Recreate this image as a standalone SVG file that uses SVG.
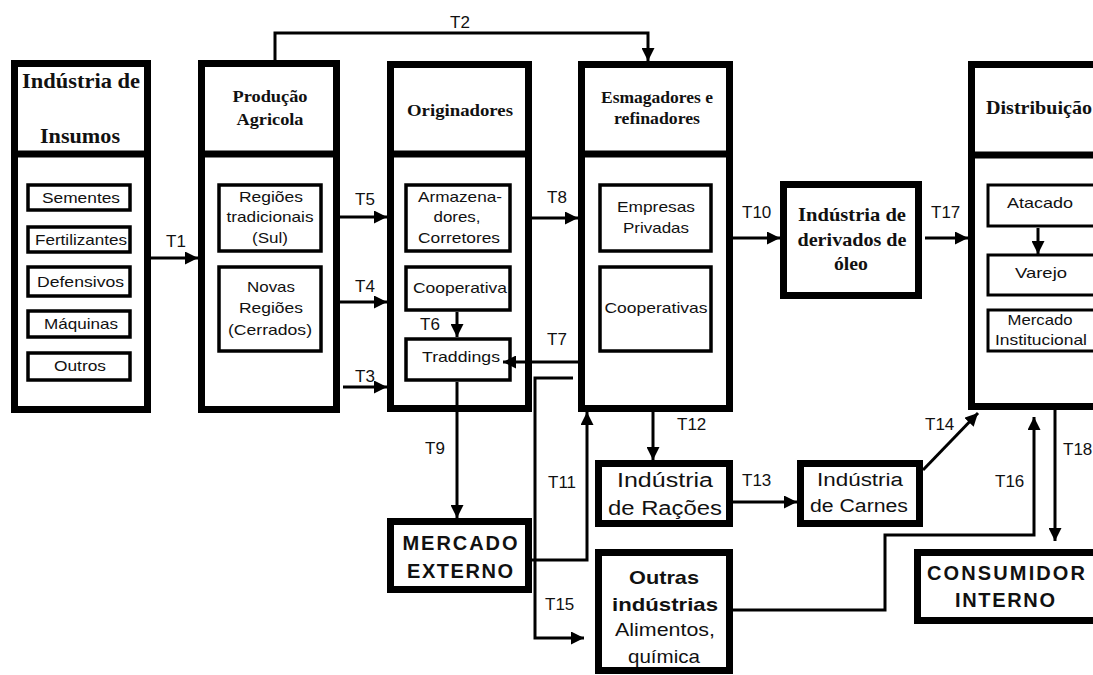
<svg xmlns="http://www.w3.org/2000/svg" width="1093" height="675" viewBox="0 0 1093 675">
<style>
.ob{fill:#fff;stroke:#000;stroke-width:7}
.ib{fill:#fff;stroke:#000;stroke-width:3.5}
.dv{stroke:#000;stroke-width:7}
.hd{font-family:"Liberation Serif",serif;font-weight:bold;fill:#111;text-anchor:middle}
.it{font-family:"Liberation Sans",Arial,sans-serif;font-size:15px;fill:#111;text-anchor:middle}
.lb{font-family:"Liberation Sans",Arial,sans-serif;font-size:17px;fill:#111}
.bg{font-family:"Liberation Sans",Arial,sans-serif;fill:#111;text-anchor:middle}
.cn{fill:none;stroke:#000;stroke-width:3}
</style>
<defs>
<marker id="ar" markerUnits="userSpaceOnUse" markerWidth="13" markerHeight="13" refX="13" refY="6.5" orient="auto">
<path d="M0,0 L13,6.5 L0,13 z" fill="#000"/>
</marker>
</defs>
<rect width="1093" height="675" fill="#fff"/>

<g id="insumos">
<rect class="ob" x="14.5" y="63.5" width="133" height="346"/>
<line class="dv" x1="11" y1="154" x2="151" y2="154"/>
<text class="hd" x="81" y="88" font-size="21" textLength="118" lengthAdjust="spacingAndGlyphs">Indústria de</text>
<text class="hd" x="80" y="143" font-size="21" textLength="80" lengthAdjust="spacingAndGlyphs">Insumos</text>
<rect class="ib" x="28" y="185" width="102" height="25"/>
<rect class="ib" x="28" y="227" width="102" height="25"/>
<rect class="ib" x="28" y="267" width="102" height="29"/>
<rect class="ib" x="28" y="311" width="102" height="26"/>
<rect class="ib" x="28" y="353" width="102" height="27"/>
<text class="it" x="81" y="203" textLength="78" lengthAdjust="spacingAndGlyphs">Sementes</text>
<text class="it" x="81" y="245" textLength="92" lengthAdjust="spacingAndGlyphs">Fertilizantes</text>
<text class="it" x="80.5" y="287" textLength="87" lengthAdjust="spacingAndGlyphs">Defensivos</text>
<text class="it" x="81" y="329" textLength="74" lengthAdjust="spacingAndGlyphs">Máquinas</text>
<text class="it" x="80" y="371" textLength="52" lengthAdjust="spacingAndGlyphs">Outros</text>
</g>

<g id="producao">
<rect class="ob" x="201.5" y="63.5" width="135" height="346"/>
<line class="dv" x1="198" y1="154" x2="340" y2="154"/>
<text class="hd" x="270" y="102" font-size="17" textLength="75" lengthAdjust="spacingAndGlyphs">Produção</text>
<text class="hd" x="270" y="125" font-size="17" textLength="67" lengthAdjust="spacingAndGlyphs">Agricola</text>
<rect class="ib" x="219" y="185" width="102" height="66"/>
<rect class="ib" x="219" y="267" width="102" height="84"/>
<text class="it" x="271" y="202" textLength="64" lengthAdjust="spacingAndGlyphs">Regiões</text>
<text class="it" x="270" y="222" textLength="87" lengthAdjust="spacingAndGlyphs">tradicionais</text>
<text class="it" x="270" y="243" textLength="36" lengthAdjust="spacingAndGlyphs">(Sul)</text>
<text class="it" x="271" y="292" textLength="48" lengthAdjust="spacingAndGlyphs">Novas</text>
<text class="it" x="271" y="313" textLength="64" lengthAdjust="spacingAndGlyphs">Regiões</text>
<text class="it" x="270" y="335" textLength="84" lengthAdjust="spacingAndGlyphs">(Cerrados)</text>
</g>

<g id="originadores">
<rect class="ob" x="390.5" y="64.5" width="138" height="344"/>
<line class="dv" x1="387" y1="154" x2="532" y2="154"/>
<text class="hd" x="460" y="116" font-size="17" textLength="106" lengthAdjust="spacingAndGlyphs">Originadores</text>
<rect class="ib" x="406" y="185" width="104" height="66"/>
<rect class="ib" x="406" y="267" width="104" height="43"/>
<rect class="ib" x="406" y="339" width="104" height="41"/>
<text class="it" x="460" y="202" textLength="84" lengthAdjust="spacingAndGlyphs">Armazena-</text>
<text class="it" x="457" y="222" textLength="47" lengthAdjust="spacingAndGlyphs">dores,</text>
<text class="it" x="459" y="243" textLength="82" lengthAdjust="spacingAndGlyphs">Corretores</text>
<text class="it" x="460" y="293" textLength="94" lengthAdjust="spacingAndGlyphs">Cooperativa</text>
<text class="it" x="461" y="362" textLength="78" lengthAdjust="spacingAndGlyphs">Traddings</text>
</g>

<g id="esmagadores">
<rect class="ob" x="581.5" y="64.5" width="148" height="344"/>
<line class="dv" x1="578" y1="154" x2="733" y2="154"/>
<text class="hd" x="657" y="103" font-size="16" textLength="112" lengthAdjust="spacingAndGlyphs">Esmagadores e</text>
<text class="hd" x="657" y="124" font-size="16" textLength="86" lengthAdjust="spacingAndGlyphs">refinadores</text>
<rect class="ib" x="600" y="185" width="111" height="66"/>
<rect class="ib" x="600" y="267" width="111" height="84"/>
<text class="it" x="656" y="212" textLength="78" lengthAdjust="spacingAndGlyphs">Empresas</text>
<text class="it" x="656" y="233" textLength="66" lengthAdjust="spacingAndGlyphs">Privadas</text>
<text class="it" x="656" y="313" textLength="103" lengthAdjust="spacingAndGlyphs">Cooperativas</text>
</g>

<g id="distribuicao">
<rect class="ob" x="971.5" y="64.5" width="140" height="342"/>
<line class="dv" x1="968" y1="155" x2="1100" y2="155"/>
<text class="hd" x="986" y="114" font-size="18" textLength="106" lengthAdjust="spacingAndGlyphs" style="text-anchor:start">Distribuição</text>
<rect class="ib" x="988" y="185" width="120" height="41" style="stroke-width:3"/>
<rect class="ib" x="988" y="255" width="120" height="40" style="stroke-width:3"/>
<rect class="ib" x="988" y="310" width="120" height="41" style="stroke-width:3"/>
<text class="it" x="1040" y="208" textLength="66" lengthAdjust="spacingAndGlyphs">Atacado</text>
<text class="it" x="1041" y="278" textLength="52" lengthAdjust="spacingAndGlyphs">Varejo</text>
<text class="it" x="1040" y="325" font-size="13" textLength="65" lengthAdjust="spacingAndGlyphs">Mercado</text>
<text class="it" x="1041" y="345" font-size="13" textLength="92" lengthAdjust="spacingAndGlyphs">Institucional</text>
</g>

<g id="derivados">
<rect class="ob" x="783.5" y="184.5" width="135" height="111"/>
<text class="hd" x="852" y="221" font-size="19" textLength="108" lengthAdjust="spacingAndGlyphs">Indústria de</text>
<text class="hd" x="852" y="246" font-size="19" textLength="109" lengthAdjust="spacingAndGlyphs">derivados de</text>
<text class="hd" x="851" y="270" font-size="19" textLength="34" lengthAdjust="spacingAndGlyphs">óleo</text>
</g>

<g id="mercado-externo">
<rect class="ob" x="390.5" y="521.5" width="138" height="68"/>
<text class="bg" x="460" y="550" font-size="20" font-weight="bold" textLength="115">MERCADO</text>
<text class="bg" x="460" y="578" font-size="20" font-weight="bold" textLength="106">EXTERNO</text>
</g>

<g id="racoes">
<rect class="ob" x="598.5" y="463.5" width="131" height="60"/>
<text class="bg" x="665" y="487" font-size="20" textLength="96" lengthAdjust="spacingAndGlyphs">Indústria</text>
<text class="bg" x="665" y="515" font-size="20" textLength="114" lengthAdjust="spacingAndGlyphs">de Rações</text>
</g>

<g id="outras">
<rect class="ob" x="598.5" y="552.5" width="131" height="118"/>
<text class="bg" x="664" y="584" font-size="19" font-weight="bold" textLength="70" lengthAdjust="spacingAndGlyphs">Outras</text>
<text class="bg" x="665" y="611" font-size="19" font-weight="bold" textLength="106" lengthAdjust="spacingAndGlyphs">indústrias</text>
<text class="bg" x="665" y="636" font-size="19" textLength="100" lengthAdjust="spacingAndGlyphs">Alimentos,</text>
<text class="bg" x="664" y="663" font-size="19" textLength="72" lengthAdjust="spacingAndGlyphs">química</text>
</g>

<g id="carnes">
<rect class="ob" x="800.5" y="463.5" width="119" height="60"/>
<text class="bg" x="860" y="486" font-size="18" textLength="86" lengthAdjust="spacingAndGlyphs">Indústria</text>
<text class="bg" x="859" y="512" font-size="18" textLength="98" lengthAdjust="spacingAndGlyphs">de Carnes</text>
</g>

<g id="consumidor">
<rect class="ob" x="917.5" y="552.5" width="190" height="68"/>
<text class="bg" x="1006" y="580" font-size="20" font-weight="bold" textLength="158">CONSUMIDOR</text>
<text class="bg" x="1005" y="607" font-size="20" font-weight="bold" textLength="100">INTERNO</text>
</g>

<g id="connectors">
<line class="cn" x1="151" y1="258" x2="198" y2="258" marker-end="url(#ar)"/>
<path class="cn" d="M275,60 V33 H648 V61" marker-end="url(#ar)"/>
<line class="cn" x1="340" y1="217" x2="387" y2="217" marker-end="url(#ar)"/>
<line class="cn" x1="340" y1="302" x2="387" y2="302" marker-end="url(#ar)"/>
<line class="cn" x1="343" y1="387" x2="387" y2="387" marker-end="url(#ar)"/>
<line class="cn" x1="457" y1="312" x2="457" y2="337" marker-end="url(#ar)"/>
<line class="cn" x1="578" y1="362" x2="503" y2="362" marker-end="url(#ar)"/>
<line class="cn" x1="532" y1="218" x2="578" y2="218" marker-end="url(#ar)"/>
<line class="cn" x1="457" y1="382" x2="457" y2="518" marker-end="url(#ar)"/>
<line class="cn" x1="733" y1="238" x2="780" y2="238" marker-end="url(#ar)"/>
<line class="cn" x1="925" y1="238" x2="968" y2="238" marker-end="url(#ar)"/>
<path class="cn" d="M532,560 H587 V412" marker-end="url(#ar)"/>
<path class="cn" d="M573,378 H535 V638 H584" marker-end="url(#ar)"/>
<line class="cn" x1="653" y1="412" x2="653" y2="460" marker-end="url(#ar)"/>
<line class="cn" x1="733" y1="502" x2="797" y2="502" marker-end="url(#ar)"/>
<line class="cn" x1="923" y1="470" x2="978" y2="413" marker-end="url(#ar)"/>
<path class="cn" d="M733,610 H885 V535 H1034 V417" marker-end="url(#ar)"/>
<line class="cn" x1="1055" y1="410" x2="1055" y2="541" marker-end="url(#ar)"/>
<line class="cn" x1="1038" y1="228" x2="1038" y2="254" marker-end="url(#ar)"/>
<text class="lb" x="166" y="247">T1</text>
<text class="lb" x="450" y="28">T2</text>
<text class="lb" x="355" y="205">T5</text>
<text class="lb" x="355" y="292">T4</text>
<text class="lb" x="355" y="382">T3</text>
<text class="lb" x="420" y="330">T6</text>
<text class="lb" x="547" y="345">T7</text>
<text class="lb" x="547" y="203">T8</text>
<text class="lb" x="425" y="454">T9</text>
<text class="lb" x="742" y="218">T10</text>
<text class="lb" x="548" y="488">T11</text>
<text class="lb" x="677" y="430">T12</text>
<text class="lb" x="742" y="486">T13</text>
<text class="lb" x="925" y="430">T14</text>
<text class="lb" x="545" y="610">T15</text>
<text class="lb" x="995" y="487">T16</text>
<text class="lb" x="931" y="218">T17</text>
<text class="lb" x="1063" y="455" font-size="16">T18</text>
</g>
</svg>
